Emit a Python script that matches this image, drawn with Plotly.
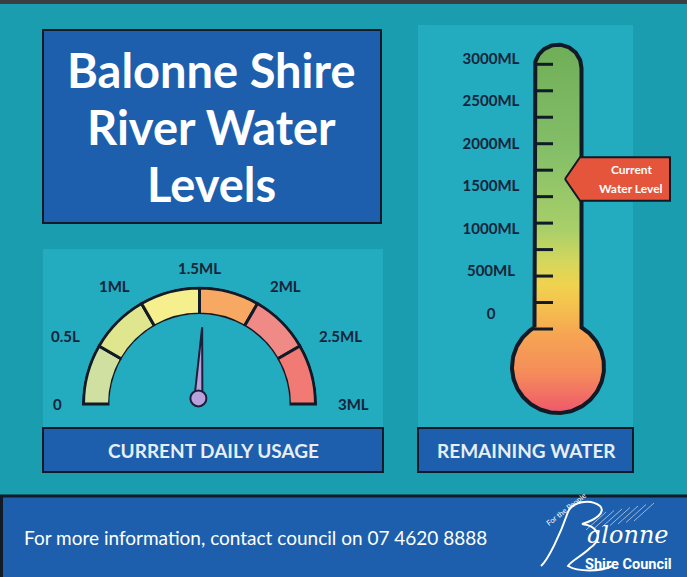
import numpy as np
import plotly.graph_objects as go

W, H = 687, 577

# ---------------- data ----------------
gauge_ticks = [0, 0.5, 1, 1.5, 2, 2.5, 3]
gauge_tick_labels = ["0", "0.5L", "1ML", "1.5ML", "2ML", "2.5ML", "3ML"]
gauge_segment_colors = ["#cfe0a0", "#dfe68e", "#f6ef8e", "#f7a862", "#f08a86", "#f17b74"]
current_usage = 1.55  # ML per day

therm_ticks = [0, 500, 1000, 1500, 2000, 2500, 3000]
therm_tick_labels = ["0", "500ML", "1000ML", "1500ML", "2000ML", "2500ML", "3000ML"]
current_level = 1600  # ML remaining

title_lines = ["Balonne Shire", "River Water", "Levels"]
usage_label = "CURRENT DAILY USAGE"
remaining_label = "REMAINING WATER"
footer_text = "For more information, contact council on 07 4620 8888"

# ---------------- styles ----------------
BG = "#1b9db0"
PANEL = "#23abbf"
BLUE = "#1d5fad"
DARK = "#111a27"
LABEL_DARK = "#15243a"
FONT = "Lato"

fig = go.Figure()

shapes = []
def rect(x0, y0, x1, y1, fill, line=None, lw=0, layer="below"):
    shapes.append(dict(type="rect", xref="x", yref="y", x0=x0, y0=y0, x1=x1, y1=y1,
                       fillcolor=fill, line=dict(color=line or fill, width=lw), layer=layer))

rect(0, 0, W, 4, "#3b3f42")
rect(43, 30, 381, 223, BLUE, DARK, 2)
rect(43, 249, 383, 428, PANEL)
rect(418, 25, 633, 428, PANEL)
rect(43, 428, 383, 472, BLUE, DARK, 2)
rect(418, 428, 633, 472, BLUE, DARK, 2)
rect(1.5, 496, 700, 600, BLUE, DARK, 3)

annotations = []
def text(x, y, s, size, color="white", bold=True, anchor="center", yref="y", angle=0, family=FONT):
    annotations.append(dict(x=x, y=y, xref="x", yref=yref, text=s, showarrow=False,
                            xanchor=anchor, yanchor="middle", textangle=angle,
                            font=dict(family=family, size=size, color=color,
                                      weight="bold" if bold else "normal")))

for i, line in enumerate(title_lines):
    text(211, 70 + 57 * i, line, 47)
text(213, 450, usage_label, 19, color="#e8eef6")
text(526, 450, remaining_label, 19, color="#e8eef6")
text(22, 537, footer_text, 19, color="white", bold=False, anchor="left")

# ---------------- gauge (polar) ----------------
g_cx, g_cy = 199.5, 404.0
r_in, r_out = 90.0, 116.0
rmax = 1.06
R = r_in + (r_out - r_in) * rmax
hole = r_in / R
below = np.sin(np.radians(4))
polar_domain = dict(x=[(g_cx - R) / W, (g_cx + R) / W],
                    y=[1 - (g_cy + R * below) / H, 1 - (g_cy - R) / H])

deg_per_unit = 180.0 / (gauge_ticks[-1] - gauge_ticks[0])
seg_lo = np.array(gauge_ticks[:-1])
seg_hi = np.array(gauge_ticks[1:])
fig.add_trace(go.Barpolar(
    r=[1] * len(seg_lo), theta=(seg_lo + seg_hi) / 2 * deg_per_unit,
    width=(seg_hi - seg_lo) * deg_per_unit,
    marker=dict(color=gauge_segment_colors, line=dict(color=DARK, width=3)),
    subplot="polar", hoverinfo="skip", showlegend=False))

# gauge tick labels, placed around the arc from their values
r_lab = 136.0
for v, lab in zip(gauge_ticks, gauge_tick_labels):
    ang = np.radians(180 - v * deg_per_unit)
    c, s = np.cos(ang), np.sin(ang)
    anchor = "right" if c < -0.1 else ("left" if c > 0.1 else "center")
    text(g_cx + r_lab * c, g_cy - r_lab * s, lab, 15, color=LABEL_DARK, anchor=anchor)

# needle (second polar, no hole)
n_cx, n_cy = 198.4, 398.4
R2 = 100.0
polar2_domain = dict(x=[(n_cx - R2) / W, (n_cx + R2) / W],
                     y=[1 - (n_cy + R2 * below) / H, 1 - (n_cy - R2) / H])
th = current_usage * deg_per_unit
fig.add_trace(go.Scatterpolar(
    r=[0.04, 0.712, 0.04, 0.04], theta=[th - 90, th, th + 90, th - 90],
    mode="lines", fill="toself", fillcolor="#b9a2dc",
    line=dict(color="#1c1f3a", width=2), subplot="polar2",
    hoverinfo="skip", showlegend=False))
fig.add_trace(go.Scatterpolar(
    r=[0], theta=[th], mode="markers", cliponaxis=False,
    marker=dict(size=16, color="#b9a2dc", line=dict(color="#1c1f3a", width=2)),
    subplot="polar2", hoverinfo="skip", showlegend=False))

# ---------------- thermometer ----------------
cx = 558.0
tube_top, hw = 44.7, 23.5
bcy, br = 367.0, 46.0
arc_cy = tube_top + hw
yj = bcy - np.sqrt(br ** 2 - hw ** 2)
a0 = np.arctan2(bcy - yj, hw)
a_top = np.linspace(np.pi, 0, 60)
a_bulb = np.linspace(a0, -np.pi - a0, 160)
tx = np.concatenate([[cx - hw], cx + hw * np.cos(a_top), [cx + hw], cx + br * np.cos(a_bulb)])
ty = np.concatenate([[yj], arc_cy - hw * np.sin(a_top), [yj], bcy - br * np.sin(a_bulb)])
g_top, g_bot = tube_top, bcy + br
def fr(y):
    return (y - g_top) / (g_bot - g_top)
therm_scale = [[0, "#6fae57"], [fr(150), "#84bf68"], [fr(230), "#a9cf69"], [fr(262), "#d4d75c"],
               [fr(285), "#f0d34e"], [fr(310), "#f5bd4e"], [fr(335), "#f6a453"],
               [fr(372), "#f58d5a"], [1, "#ee586b"]]
fig.add_trace(go.Scatter(
    x=tx, y=ty, mode="lines", fill="toself",
    fillgradient=dict(type="vertical", colorscale=therm_scale, start=g_top, stop=g_bot),
    line=dict(color=DARK, width=4), hoverinfo="skip", showlegend=False))

for yy in np.linspace(64.3, 329, 11):
    shapes.append(dict(type="line", xref="x", yref="y", x0=534, x1=553, y0=yy, y1=yy,
                       line=dict(color=DARK, width=3), layer="above"))

# ML scale (secondary y axis) for labels and level arrow
px0, px3000 = 315.0, 60.0
ml_per_px = (therm_ticks[-1] - therm_ticks[0]) / (px0 - px3000)
y2_range = [(px0 - H) * ml_per_px, px0 * ml_per_px]

fig.add_trace(go.Scatter(
    x=[491] * len(therm_ticks), y=therm_ticks, text=therm_tick_labels, mode="text",
    textposition="middle center", yaxis="y2",
    textfont=dict(family=FONT, size=15, color=LABEL_DARK, weight="bold"),
    hoverinfo="skip", showlegend=False))

dh = 21.7 * ml_per_px
fig.add_trace(go.Scatter(
    x=[565, 580, 670, 670, 580, 565],
    y=[current_level, current_level + dh, current_level + dh,
       current_level - dh, current_level - dh, current_level],
    mode="lines", fill="toself", fillcolor="#e4553b", yaxis="y2",
    line=dict(color=DARK, width=2), hoverinfo="skip", showlegend=False))
text(631, current_level + 9.5 * ml_per_px, "Current", 12, yref="y2")
text(631, current_level - 9.5 * ml_per_px, "Water Level", 12, yref="y2")

# ---------------- logo ----------------
text(566, 509, "For the People", 7.5, bold=False, angle=-38)
shapes.append(dict(type="path", xref="x", yref="y", layer="above",
                   path="M 541 566 C 548 560, 560 535, 568 512 C 572 502, 590 498, 600 506 "
                        "C 606 512, 596 520, 582 524 C 598 526, 604 538, 590 548 "
                        "C 582 556, 572 560, 568 566 C 578 572, 600 572, 612 566",
                   line=dict(color="white", width=2)))
for k in range(7):
    shapes.append(dict(type="line", xref="x", yref="y", layer="above",
                       x0=586 + k * 8, y0=530 - k * 1.5, x1=606 + k * 8, y1=512 - k * 1.5,
                       line=dict(color="rgba(255,255,255,0.55)", width=1)))
text(628, 535, "<i>alonne</i>", 24, bold=False, family="DejaVu Serif")
text(628, 564, "Shire Council", 14.5, family="Roboto")

fig.update_layout(
    width=W, height=H, margin=dict(l=0, r=0, t=0, b=0),
    paper_bgcolor=BG, plot_bgcolor=BG, showlegend=False,
    xaxis=dict(range=[0, W], visible=False, fixedrange=True),
    yaxis=dict(range=[H, 0], visible=False, fixedrange=True),
    yaxis2=dict(range=y2_range, overlaying="y", visible=False, fixedrange=True),
    polar=dict(domain=polar_domain, sector=[-4, 184], hole=hole, bgcolor="rgba(0,0,0,0)",
               radialaxis=dict(visible=False, range=[0, rmax]),
               angularaxis=dict(visible=False, rotation=180, direction="clockwise")),
    polar2=dict(domain=polar2_domain, sector=[-4, 184], bgcolor="rgba(0,0,0,0)",
                radialaxis=dict(visible=False, range=[0, 1]),
                angularaxis=dict(visible=False, rotation=180, direction="clockwise")),
    shapes=shapes, annotations=annotations,
)

fig.write_html("out.html", config={"displayModeBar": False},
               post_script="document.body.style.margin='0px';document.body.style.overflow='hidden';")
